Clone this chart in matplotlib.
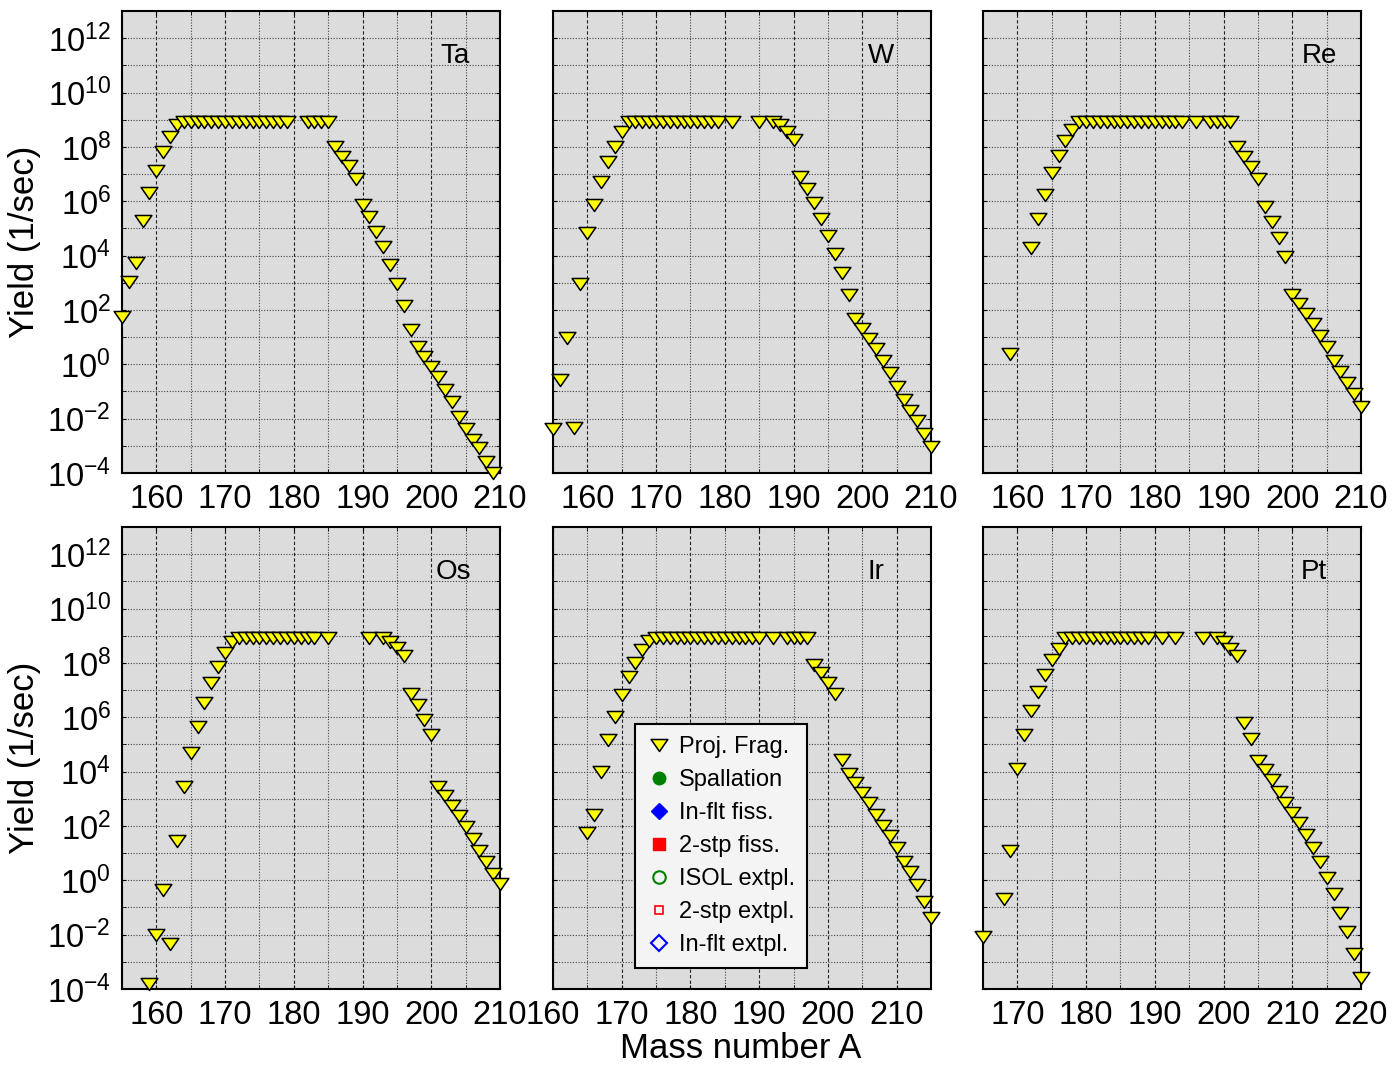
import numpy as np
import matplotlib.pyplot as plt
from matplotlib.lines import Line2D
from matplotlib.path import Path
from matplotlib.ticker import FixedLocator, NullFormatter

plt.rcParams['font.family'] = ['Liberation Sans', 'DejaVu Sans']
plt.rcParams['mathtext.fontset'] = 'custom'
plt.rcParams['mathtext.rm'] = 'Liberation Sans'
plt.rcParams['mathtext.default'] = 'regular'

# ---- data: mass number and log10(yield [1/sec]) ----
mass_ta = [155, 156, 157, 158, 159, 160, 161, 162, 163, 164, 165, 166, 167, 168, 169, 170,
           171, 172, 173, 174, 175, 176, 177, 178, 179, 182, 183, 184, 185, 186, 187, 188,
           189, 190, 191, 192, 193, 194, 195, 196, 197, 198, 199, 200, 201, 202, 203, 204,
           205, 206, 207, 208, 209]
logy_ta = [1.73, 3.04, 3.72, 5.28, 6.32, 7.12, 7.80, 8.38, 8.81, 8.92, 8.92, 8.92, 8.92, 8.92, 8.92, 8.92,
           8.92, 8.92, 8.92, 8.92, 8.92, 8.92, 8.92, 8.92, 8.92, 8.92, 8.92, 8.92, 8.92, 8.01, 7.64, 7.28,
           6.81, 5.87, 5.41, 4.88, 4.33, 3.66, 2.96, 2.13, 1.25, 0.65, 0.28, -0.11, -0.48, -0.94, -1.37, -1.95,
           -2.39, -2.79, -3.09, -3.61, -3.99]

mass_w = [155, 156, 157, 158, 159, 160, 161, 162, 163, 164, 165, 166, 167, 168, 169, 170,
          171, 172, 173, 174, 175, 176, 177, 178, 179, 181, 185, 187, 188, 189, 190, 191,
          192, 193, 194, 195, 196, 197, 198, 199, 200, 201, 202, 203, 204, 205, 206, 207,
          208, 209, 210]
logy_w = [-2.38, -0.58, 0.98, -2.36, 2.94, 4.82, 5.87, 6.72, 7.44, 8.01, 8.54, 8.92, 8.92, 8.92, 8.92, 8.92,
          8.92, 8.92, 8.92, 8.92, 8.92, 8.92, 8.92, 8.92, 8.92, 8.92, 8.92, 8.90, 8.80, 8.55, 8.25, 6.91,
          6.44, 5.93, 5.34, 4.72, 4.06, 3.35, 2.55, 1.66, 1.29, 0.92, 0.55, 0.13, -0.31, -0.82, -1.31, -1.71,
          -2.07, -2.58, -3.03]

mass_re = [159, 162, 163, 164, 165, 166, 167, 168, 169, 170, 171, 172, 173, 174, 175, 176,
           177, 178, 179, 180, 181, 182, 183, 184, 186, 188, 189, 190, 191, 192, 193, 194,
           195, 196, 197, 198, 199, 200, 201, 202, 203, 204, 205, 206, 207, 208, 209, 210]
logy_re = [0.37, 4.29, 5.34, 6.23, 7.03, 7.67, 8.20, 8.63, 8.92, 8.92, 8.92, 8.92, 8.92, 8.92, 8.92, 8.92,
           8.92, 8.92, 8.92, 8.92, 8.92, 8.92, 8.92, 8.92, 8.92, 8.92, 8.92, 8.92, 8.92, 7.99, 7.62, 7.25,
           6.81, 5.78, 5.23, 4.64, 3.94, 2.55, 2.22, 1.85, 1.48, 1.04, 0.63, 0.13, -0.27, -0.67, -1.09, -1.56]

mass_os = [159, 160, 161, 162, 163, 164, 165, 166, 167, 168, 169, 170, 171, 172, 173, 174,
           175, 176, 177, 178, 179, 180, 181, 182, 183, 185, 191, 193, 194, 195, 196, 197,
           198, 199, 200, 201, 202, 203, 204, 205, 206, 207, 208, 209, 210]
logy_os = [-3.81, -2.00, -0.34, -2.36, 1.44, 3.42, 4.68, 5.64, 6.52, 7.26, 7.85, 8.36, 8.76, 8.92, 8.92, 8.92,
           8.92, 8.92, 8.92, 8.92, 8.92, 8.92, 8.92, 8.92, 8.92, 8.92, 8.92, 8.92, 8.76, 8.54, 8.24, 6.87,
           6.44, 5.91, 5.36, 3.43, 3.09, 2.72, 2.36, 1.96, 1.53, 1.07, 0.68, 0.25, -0.12]

mass_ir = [165, 166, 167, 168, 169, 170, 171, 172, 173, 174, 175, 176, 177, 178, 179, 180,
           181, 182, 183, 184, 185, 186, 187, 188, 189, 190, 192, 194, 195, 196, 197, 198,
           199, 200, 201, 202, 203, 204, 205, 206, 207, 208, 209, 210, 211, 212, 213, 214, 215]
logy_ir = [1.74, 2.42, 3.99, 5.15, 6.01, 6.80, 7.48, 7.99, 8.46, 8.79, 8.93, 8.93, 8.93, 8.93, 8.93, 8.93,
           8.93, 8.93, 8.93, 8.93, 8.93, 8.93, 8.93, 8.93, 8.93, 8.93, 8.93, 8.93, 8.93, 8.93, 8.93, 7.93,
           7.62, 7.26, 6.87, 4.44, 3.92, 3.58, 3.21, 2.85, 2.42, 1.99, 1.62, 1.17, 0.68, 0.31, -0.18, -0.79, -1.38]

mass_pt = [165, 168, 169, 170, 171, 172, 173, 174, 175, 176, 177, 178, 179, 180, 181, 182,
           183, 184, 185, 186, 187, 188, 189, 191, 193, 197, 199, 200, 201, 202, 203, 204,
           205, 206, 207, 208, 209, 210, 211, 212, 213, 214, 215, 216, 217, 218, 219, 220]
logy_pt = [-2.08, -0.67, 1.07, 4.11, 5.33, 6.22, 6.93, 7.56, 8.09, 8.52, 8.92, 8.92, 8.92, 8.92, 8.92, 8.92,
           8.92, 8.92, 8.92, 8.92, 8.92, 8.92, 8.92, 8.92, 8.92, 8.92, 8.91, 8.76, 8.52, 8.27, 5.79, 5.21,
           4.38, 4.07, 3.68, 3.25, 2.85, 2.48, 2.09, 1.66, 1.17, 0.68, 0.10, -0.49, -1.20, -1.90, -2.73, -3.61]

elements = ['Ta', 'W', 'Re', 'Os', 'Ir', 'Pt']
masses = [mass_ta, mass_w, mass_re, mass_os, mass_ir, mass_pt]
logys = [logy_ta, logy_w, logy_re, logy_os, logy_ir, logy_pt]
xlims = [(155, 210), (155, 210), (155, 210), (155, 210), (160, 215), (165, 220)]
label_pos = [0.881, 0.867, 0.889, 0.876, 0.854, 0.875]

# wide, flat down-pointing triangle like the original
tri = Path([(-1.0, 0.72), (1.0, 0.72), (0.0, -0.72), (-1.0, 0.72)], closed=True)

W, H = 1395, 1068
fig = plt.figure(figsize=(W / 100, H / 100), dpi=100)

col_left = [122, 553, 983]
row_top = [11, 527]
ax_w, ax_h = 378, 462

for i, el in enumerate(elements):
    r, c = divmod(i, 3)
    ax = fig.add_axes([col_left[c] / W, 1 - (row_top[r] + ax_h) / H, ax_w / W, ax_h / H])
    ax.set_facecolor('#dcdcdc')
    ax.set_yscale('log')
    ax.set_ylim(1e-4, 1e13)
    ax.set_xlim(*xlims[i])

    y = 10 ** np.array(logys[i])
    ax.plot(masses[i], y, linestyle='none', marker=tri, ms=12, mfc='#ffff00', mec='black',
            mew=1.1, clip_on=False, zorder=5)

    lo, hi = xlims[i]
    ax.xaxis.set_major_locator(FixedLocator([v for v in range(160, 230, 10) if lo <= v <= hi]))
    ax.xaxis.set_minor_locator(FixedLocator([v for v in range(155, 225, 10) if lo <= v <= hi]))
    ax.xaxis.set_minor_formatter(NullFormatter())
    ax.yaxis.set_major_locator(FixedLocator([10.0 ** e for e in range(-4, 13, 2)]))
    ax.yaxis.set_minor_locator(FixedLocator([10.0 ** e for e in range(-3, 13, 2)]))
    ax.yaxis.set_minor_formatter(NullFormatter())

    ax.grid(True, axis='x', which='major', color='#222222', linestyle=(0, (3, 2)), linewidth=0.8)
    ax.grid(True, axis='x', which='minor', color='#444444', linestyle=(0, (1, 1.5)), linewidth=0.8)
    ax.grid(True, axis='y', which='both', color='#444444', linestyle=(0, (1, 1.5)), linewidth=0.8)
    ax.set_axisbelow(True)

    ax.tick_params(which='both', direction='in', length=3, top=True, right=True,
                   labelsize=23.5, pad=8)
    if c == 0:
        ax.set_yticklabels([f'$10^{{{e}}}$' for e in range(-4, 13, 2)])
    else:
        ax.tick_params(axis='y', labelleft=False)

    for s in ax.spines.values():
        s.set_linewidth(1.5)

    ax.text(label_pos[i], 0.903, el, transform=ax.transAxes, fontsize=20,
            ha='center', va='center')

    if el == 'Ir':
        handles = [
            Line2D([], [], ls='none', marker=tri, ms=12, mfc='#ffff00', mec='black', mew=1.1),
            Line2D([], [], ls='none', marker='o', ms=9, mfc='green', mec='green'),
            Line2D([], [], ls='none', marker='D', ms=8, mfc='blue', mec='blue'),
            Line2D([], [], ls='none', marker='s', ms=8, mfc='red', mec='red'),
            Line2D([], [], ls='none', marker='o', ms=9, mfc='none', mec='green', mew=1.5),
            Line2D([], [], ls='none', marker='s', ms=6, mfc='none', mec='red', mew=1.2),
            Line2D([], [], ls='none', marker='D', ms=8, mfc='none', mec='blue', mew=1.5),
        ]
        labels = ['Proj. Frag.', 'Spallation', 'In-flt fiss.', '2-stp fiss.',
                  'ISOL extpl.', '2-stp extpl.', 'In-flt extpl.']
        leg = ax.legend(handles, labels, loc='lower left', bbox_to_anchor=(0.2175, 0.045),
                        fontsize=17, frameon=True, fancybox=False, framealpha=1,
                        facecolor='#f4f4f4', edgecolor='black', handlelength=1.0,
                        handletextpad=0.35, labelspacing=0.47, borderpad=0.5,
                        borderaxespad=0)
        leg.get_frame().set_linewidth(1.5)
        leg.set_zorder(10)

fig.text(25 / W, 1 - 242 / H, 'Yield (1/sec)', rotation=90, fontsize=25, ha='center', va='center')
fig.text(25 / W, 1 - 758 / H, 'Yield (1/sec)', rotation=90, fontsize=25, ha='center', va='center')
fig.text(741 / W, 1 - 1049 / H, 'Mass number A', fontsize=25, ha='center', va='center')

fig.savefig('out.png', dpi=100)
